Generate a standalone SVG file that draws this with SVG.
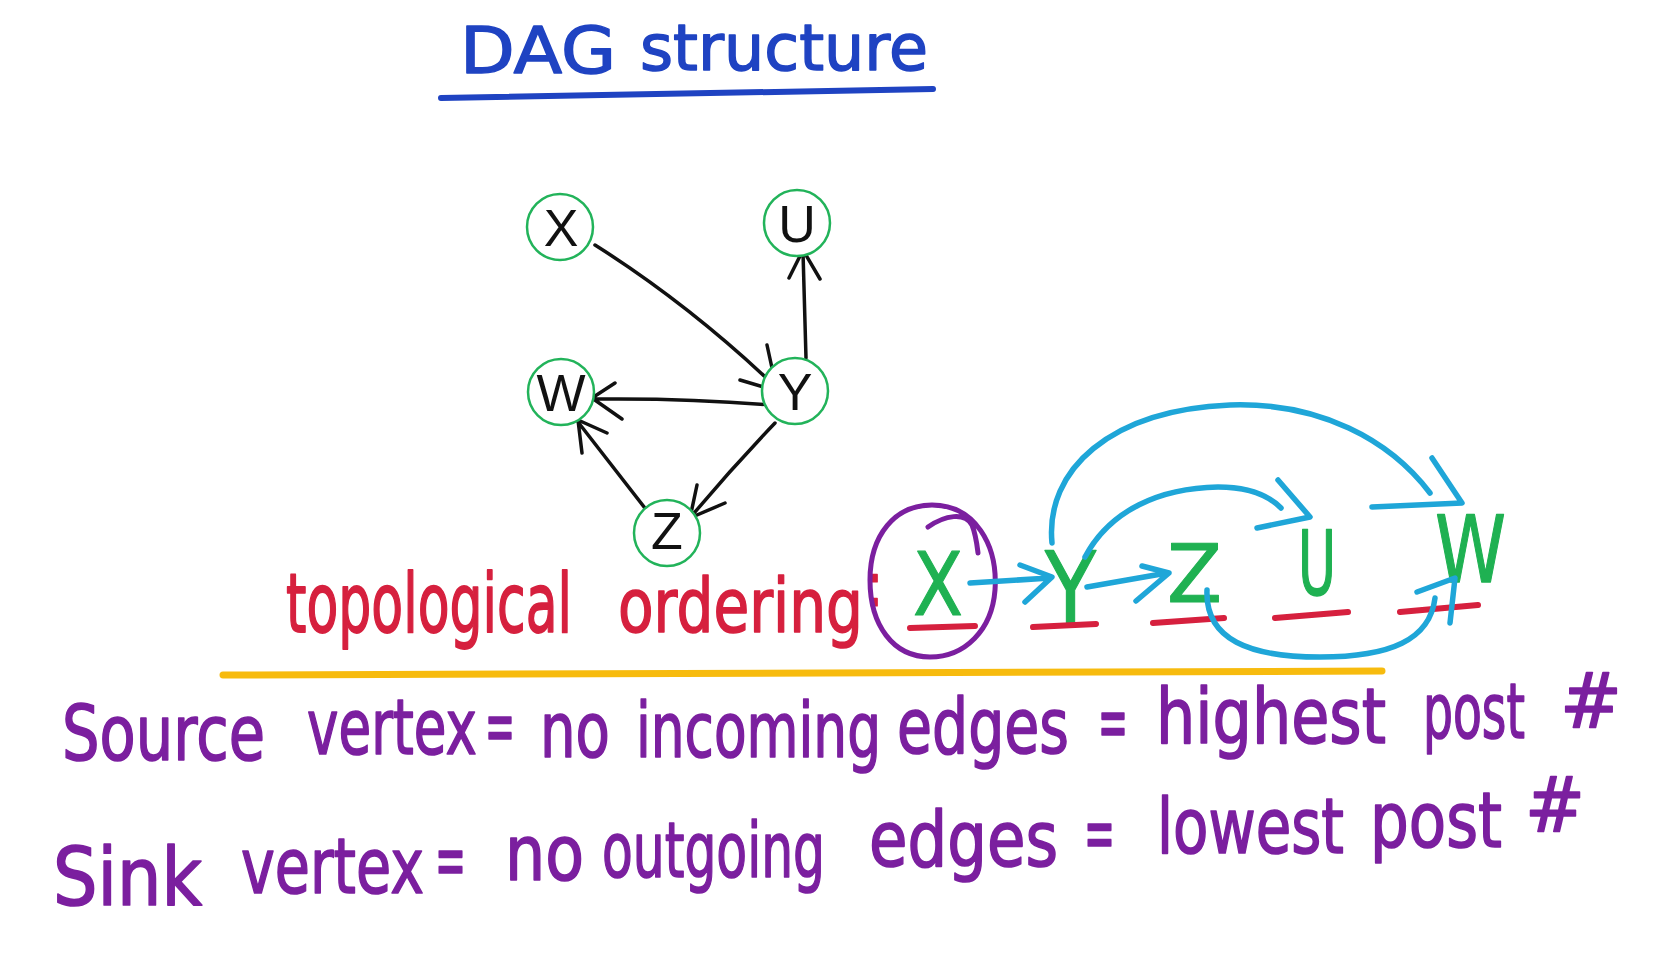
<svg xmlns="http://www.w3.org/2000/svg" width="1654" height="970" viewBox="0 0 1654 970">
<style>
.hw{font-family:"DejaVu Sans","Liberation Sans",sans-serif;stroke-linejoin:round}
.blue{fill:#1f43c2;stroke:#1f43c2;stroke-width:1.5}
.red{fill:#d6203e;stroke:#d6203e;stroke-width:1.2}
.pur{fill:#7b1f9f;stroke:#7b1f9f;stroke-width:1.2}
.grn{fill:#1fb152;stroke:#1fb152;stroke-width:1}
.node circle{fill:#fff;stroke:#22b35a;stroke-width:2.5}
.node text{font-family:"Liberation Sans",Arial,sans-serif;font-size:52px;fill:#111;text-anchor:middle}
.edge{fill:none;stroke:#111;stroke-width:3.5;stroke-linecap:round;stroke-linejoin:round}
.cy{fill:none;stroke:#1fa6d8;stroke-width:5.5;stroke-linecap:round;stroke-linejoin:round}
.ul{fill:none;stroke:#d6203e;stroke-width:6;stroke-linecap:round}
</style>
<rect width="1654" height="970" fill="#fff"/>

<g id="title">
<text class="hw blue" x="460" y="73" font-size="64" textLength="156" lengthAdjust="spacingAndGlyphs">DAG</text>
<text class="hw blue" x="640" y="70" font-size="64" textLength="288" lengthAdjust="spacingAndGlyphs">structure</text>
<path d="M441,98 L933,89" fill="none" stroke="#1f43c2" stroke-width="6" stroke-linecap="round"/>
</g>

<g id="connectors">
<path class="edge" d="M595,245 Q690,305 777,388 M740,380 L777,391 L767,345"/>
<path class="edge" d="M806,358 L803,252 M789,278 L803,250 L820,279"/>
<path class="edge" d="M770,405 Q690,398 595,399 M615,383 L592,398 L622,419"/>
<path class="edge" d="M648,512 L578,422 M582,453 L578,420 L607,433"/>
<path class="edge" d="M775,423 Q730,470 690,518 M697,485 L690,518 L725,503"/>
</g>

<g id="node-X" class="node"><circle cx="560" cy="227" r="33"/><text x="561" y="246">X</text></g>
<g id="node-U" class="node"><circle cx="797" cy="223" r="33"/><text x="797" y="242">U</text></g>
<g id="node-W" class="node"><circle cx="561" cy="392" r="33"/><text x="561" y="411">W</text></g>
<g id="node-Y" class="node"><circle cx="795" cy="391" r="33"/><text x="795" y="410">Y</text></g>
<g id="node-Z" class="node"><circle cx="667" cy="533" r="33"/><text x="667" y="549">Z</text></g>

<g id="ordering-label" class="hw red" font-size="55">
<text transform="translate(286,632) scale(1,1.49)" x="0" y="0" textLength="286" lengthAdjust="spacingAndGlyphs">topological</text>
<text transform="translate(618,632) scale(1,1.37)" x="0" y="0" textLength="245" lengthAdjust="spacingAndGlyphs">ordering</text>
<text x="864" y="606" font-size="60">:</text>
</g>

<g id="ordering">
<path d="M932,505 C975,505 998,545 995,590 C992,630 965,657 930,657 C893,657 870,625 870,580 C870,535 895,505 932,505 Z M928,527 C945,515 965,512 972,525 C976,535 977,545 978,553" fill="none" stroke="#7b1f9f" stroke-width="5" stroke-linecap="round"/>
<text class="hw grn" transform="translate(913,615) scale(1,1.2)" x="0" y="0" font-size="73" textLength="50" lengthAdjust="spacingAndGlyphs">X</text>
<text class="hw grn" transform="translate(1045,626) scale(1,1.3)" x="0" y="0" font-size="80" textLength="51" lengthAdjust="spacingAndGlyphs">Y</text>
<text class="hw grn" x="1167" y="602" font-size="80" textLength="55" lengthAdjust="spacingAndGlyphs">Z</text>
<text class="hw grn" transform="translate(1298,595) scale(1,1.7)" x="0" y="0" font-size="52" textLength="38" lengthAdjust="spacingAndGlyphs">U</text>
<text class="hw grn" transform="translate(1435,582) scale(1,1.25)" x="0" y="0" font-size="74" textLength="71" lengthAdjust="spacingAndGlyphs">W</text>
<path class="ul" d="M910,628 L975,626 M1033,627 L1096,624 M1153,623 L1224,618 M1275,618 L1348,612 M1400,612 L1478,605"/>
</g>

<g id="order-arrows">
<path class="cy" d="M970,583 L1050,578 M1020,565 L1052,577 L1025,602"/>
<path class="cy" d="M1087,587 L1167,573 M1142,566 L1169,573 L1136,601"/>
<path class="cy" d="M1085,557 C1110,510 1160,488 1218,487 C1250,487 1270,497 1281,508 M1278,480 L1310,517 L1257,528"/>
<path class="cy" d="M1052,543 C1045,470 1110,410 1230,405 C1320,402 1390,440 1430,493 M1432,458 L1462,503 L1372,507"/>
<path class="cy" d="M1207,590 C1205,640 1250,657 1320,657 C1390,657 1430,640 1435,598 M1417,592 L1455,578 L1450,623"/>
</g>

<path id="divider" d="M223,675 L1382,671" fill="none" stroke="#f7bb0e" stroke-width="7" stroke-linecap="round"/>

<g id="source-line" class="hw pur" font-size="55">
<text transform="translate(62,760) scale(1,1.38)" x="0" y="0" textLength="203" lengthAdjust="spacingAndGlyphs">Source</text>
<text transform="translate(307,754) scale(1,1.38)" x="0" y="0" textLength="170" lengthAdjust="spacingAndGlyphs">vertex</text>
<text transform="translate(485,752) scale(1,1.38)" x="0" y="0" textLength="30" lengthAdjust="spacingAndGlyphs">=</text>
<text transform="translate(540,757) scale(1,1.38)" x="0" y="0" textLength="70" lengthAdjust="spacingAndGlyphs">no</text>
<text transform="translate(636,757) scale(1,1.38)" x="0" y="0" textLength="245" lengthAdjust="spacingAndGlyphs">incoming</text>
<text transform="translate(897,753) scale(1,1.38)" x="0" y="0" textLength="172" lengthAdjust="spacingAndGlyphs">edges</text>
<text transform="translate(1098,748) scale(1,1.38)" x="0" y="0" textLength="30" lengthAdjust="spacingAndGlyphs">=</text>
<text transform="translate(1156,743) scale(1,1.38)" x="0" y="0" textLength="230" lengthAdjust="spacingAndGlyphs">highest</text>
<text transform="translate(1423,738) scale(1,1.38)" x="0" y="0" textLength="102" lengthAdjust="spacingAndGlyphs">post</text>
<text transform="translate(1560,728) scale(1,1.38)" x="0" y="0" textLength="62" lengthAdjust="spacingAndGlyphs">#</text>
</g>

<g id="sink-line" class="hw pur" font-size="55">
<text transform="translate(53,905) scale(1,1.45)" x="0" y="0" textLength="149" lengthAdjust="spacingAndGlyphs">Sink</text>
<text transform="translate(241,893) scale(1,1.38)" x="0" y="0" textLength="183" lengthAdjust="spacingAndGlyphs">vertex</text>
<text transform="translate(435,886) scale(1,1.38)" x="0" y="0" textLength="31" lengthAdjust="spacingAndGlyphs">=</text>
<text transform="translate(505,880) scale(1,1.38)" x="0" y="0" textLength="79" lengthAdjust="spacingAndGlyphs">no</text>
<text transform="translate(602,877) scale(1,1.38)" x="0" y="0" textLength="223" lengthAdjust="spacingAndGlyphs">outgoing</text>
<text transform="translate(869,866) scale(1,1.38)" x="0" y="0" textLength="189" lengthAdjust="spacingAndGlyphs">edges</text>
<text transform="translate(1084,859) scale(1,1.38)" x="0" y="0" textLength="31" lengthAdjust="spacingAndGlyphs">=</text>
<text transform="translate(1157,853) scale(1,1.38)" x="0" y="0" textLength="187" lengthAdjust="spacingAndGlyphs">lowest</text>
<text transform="translate(1370,847) scale(1,1.38)" x="0" y="0" textLength="132" lengthAdjust="spacingAndGlyphs">post</text>
<text transform="translate(1525,832) scale(1,1.38)" x="0" y="0" textLength="60" lengthAdjust="spacingAndGlyphs">#</text>
</g>
</svg>
